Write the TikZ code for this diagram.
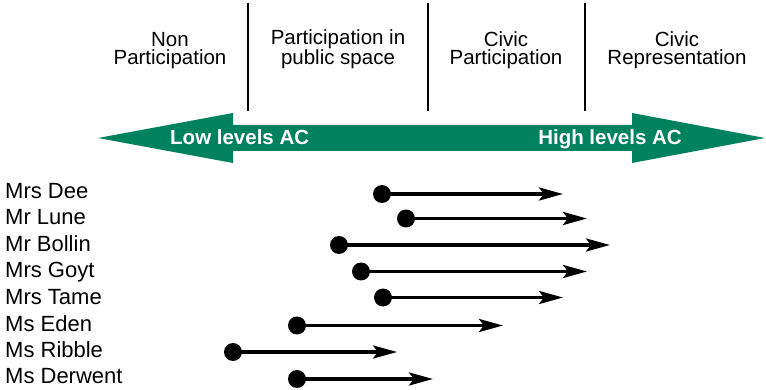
\documentclass[tikz,border=0pt]{standalone}
\usepackage{fontspec}
\setmainfont{Liberation Sans}
\usetikzlibrary{arrows.meta}
\definecolor{acgreen}{RGB}{0,130,95}
\begin{document}
\begin{tikzpicture}[x=1pt,y=-1pt,
  stagetext/.style={align=center, inner sep=0pt, font=\fontsize{20.5}{18.5}\selectfont, anchor=base},
  divider/.style={line width=1.6pt},
  acband/.style={text=white, font=\bfseries\fontsize{20.5}{24}\selectfont, inner sep=0pt},
  person/.style={font=\fontsize{22}{26}\selectfont, inner sep=0pt, anchor=base west},
  startdot/.style={circle, fill=black, inner sep=0pt, minimum size=18pt},
  reach/.style={line width=3.5pt, -{Stealth[length=24pt,width=13pt,inset=5pt]}}
]
\useasboundingbox (0,0) rectangle (766,390);

% stage headings (anchored at the baseline of the second line)
\node[stagetext] (s1) at (170,65) {Non\\Participation};
\node[stagetext] (s2) at (338,65) {Participation in\\public space};
\node[stagetext] (s3) at (506,65) {Civic\\Participation};
\node[stagetext] (s4) at (677,65) {Civic\\Representation};

% dividers between stages
\foreach \x/\n in {248/a,428/b,585/c}{
  \coordinate (top\n) at (\x,3);
  \coordinate (bot\n) at (\x,111);
  \draw[divider] (top\n) -- (bot\n);
}

% double-headed scale arrow
\fill[acgreen] (98,138) -- (233,113) -- (233,125) -- (632,125) -- (632,113)
  -- (765,138) -- (632,163) -- (632,151) -- (233,151) -- (233,163) -- cycle;
\node[acband, anchor=base west] (low) at (170,145) {Low levels AC};
\node[acband, anchor=base east] (high) at (682,145) {High levels AC};

% people and their movement along the scale
\foreach \i/\name/\base/\y/\xs/\xe in {
  1/Mrs Dee/199/194/382/563,
  2/Mr Lune/225/218.5/406/587,
  3/Mr Bollin/252/245/339/610,
  4/Mrs Goyt/278/271.5/361/587,
  5/Mrs Tame/304/297.5/383/563,
  6/Ms Eden/331/325.5/297/503,
  7/Ms Ribble/357/352/233/397,
  8/Ms Derwent/383/379/297/433}{
  \node[person] (p\i) at (5,\base) {\name};
  \node[startdot] (d\i) at (\xs,\y) {};
  \coordinate (e\i) at (\xe,\y);
  \draw[reach] (d\i.center) -- (e\i);
}
\end{tikzpicture}
\end{document}
